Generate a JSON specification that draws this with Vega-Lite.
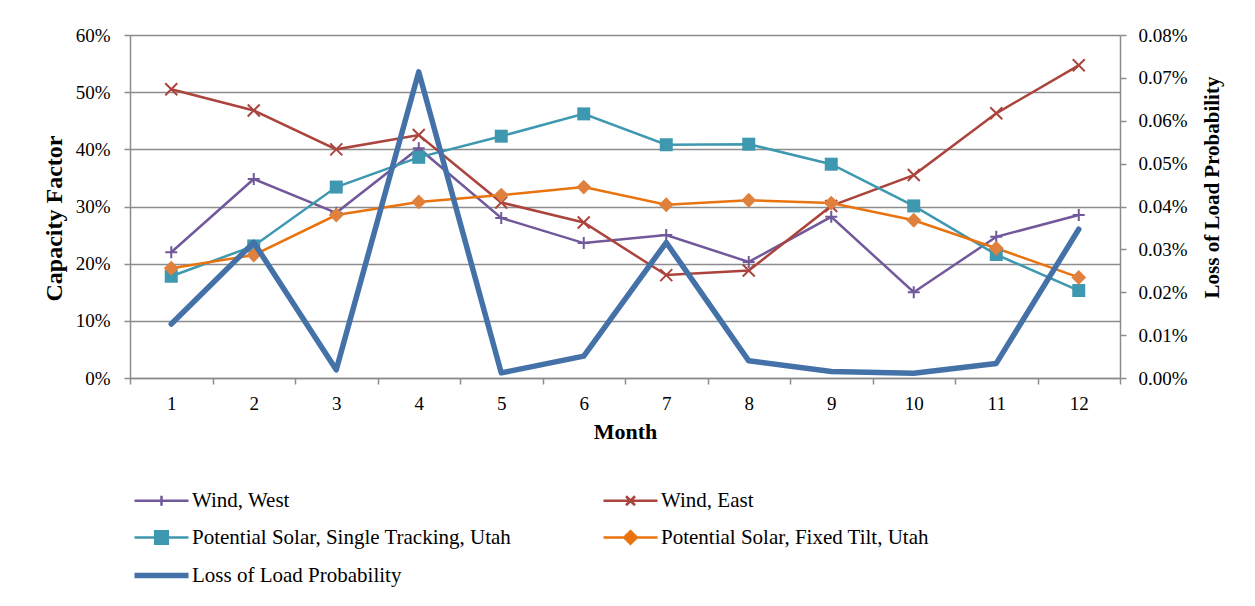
{
  "$schema": "https://vega.github.io/schema/vega-lite/v6.json",
  "width": 990,
  "height": 343,
  "autosize": {"type": "none"},
  "padding": {"left": 130, "top": 35, "right": 135, "bottom": 228},
  "background": "white",
  "config": {
    "font": "Liberation Serif",
    "view": {"stroke": null},
    "axis": {
      "labelFont": "Liberation Serif",
      "titleFont": "Liberation Serif",
      "labelColor": "#000000",
      "titleColor": "#000000",
      "domainColor": "#8c8c8c",
      "tickColor": "#8c8c8c",
      "gridColor": "#8c8c8c",
      "domainWidth": 1.5,
      "tickWidth": 1.5,
      "gridWidth": 1.4,
      "labelFontSize": 19,
      "titleFontSize": 22,
      "titleFontWeight": "bold"
    },
    "legend": {
      "labelFont": "Liberation Serif",
      "labelFontSize": 21,
      "labelColor": "#000000"
    }
  },
  "data": {
    "values": [
      {"month": 1, "series": "Wind, West", "value": 0.220},
      {"month": 2, "series": "Wind, West", "value": 0.348},
      {"month": 3, "series": "Wind, West", "value": 0.289},
      {"month": 4, "series": "Wind, West", "value": 0.402},
      {"month": 5, "series": "Wind, West", "value": 0.280},
      {"month": 6, "series": "Wind, West", "value": 0.236},
      {"month": 7, "series": "Wind, West", "value": 0.250},
      {"month": 8, "series": "Wind, West", "value": 0.203},
      {"month": 9, "series": "Wind, West", "value": 0.282},
      {"month": 10, "series": "Wind, West", "value": 0.150},
      {"month": 11, "series": "Wind, West", "value": 0.247},
      {"month": 12, "series": "Wind, West", "value": 0.285},
      {"month": 1, "series": "Wind, East", "value": 0.505},
      {"month": 2, "series": "Wind, East", "value": 0.468},
      {"month": 3, "series": "Wind, East", "value": 0.400},
      {"month": 4, "series": "Wind, East", "value": 0.425},
      {"month": 5, "series": "Wind, East", "value": 0.307},
      {"month": 6, "series": "Wind, East", "value": 0.272},
      {"month": 7, "series": "Wind, East", "value": 0.180},
      {"month": 8, "series": "Wind, East", "value": 0.188},
      {"month": 9, "series": "Wind, East", "value": 0.301},
      {"month": 10, "series": "Wind, East", "value": 0.355},
      {"month": 11, "series": "Wind, East", "value": 0.463},
      {"month": 12, "series": "Wind, East", "value": 0.547},
      {"month": 1, "series": "Potential Solar, Single Tracking, Utah", "value": 0.178},
      {"month": 2, "series": "Potential Solar, Single Tracking, Utah", "value": 0.231},
      {"month": 3, "series": "Potential Solar, Single Tracking, Utah", "value": 0.334},
      {"month": 4, "series": "Potential Solar, Single Tracking, Utah", "value": 0.386},
      {"month": 5, "series": "Potential Solar, Single Tracking, Utah", "value": 0.423},
      {"month": 6, "series": "Potential Solar, Single Tracking, Utah", "value": 0.462},
      {"month": 7, "series": "Potential Solar, Single Tracking, Utah", "value": 0.408},
      {"month": 8, "series": "Potential Solar, Single Tracking, Utah", "value": 0.409},
      {"month": 9, "series": "Potential Solar, Single Tracking, Utah", "value": 0.374},
      {"month": 10, "series": "Potential Solar, Single Tracking, Utah", "value": 0.301},
      {"month": 11, "series": "Potential Solar, Single Tracking, Utah", "value": 0.216},
      {"month": 12, "series": "Potential Solar, Single Tracking, Utah", "value": 0.153},
      {"month": 1, "series": "Potential Solar, Fixed Tilt, Utah", "value": 0.192},
      {"month": 2, "series": "Potential Solar, Fixed Tilt, Utah", "value": 0.215},
      {"month": 3, "series": "Potential Solar, Fixed Tilt, Utah", "value": 0.285},
      {"month": 4, "series": "Potential Solar, Fixed Tilt, Utah", "value": 0.308},
      {"month": 5, "series": "Potential Solar, Fixed Tilt, Utah", "value": 0.320},
      {"month": 6, "series": "Potential Solar, Fixed Tilt, Utah", "value": 0.334},
      {"month": 7, "series": "Potential Solar, Fixed Tilt, Utah", "value": 0.303},
      {"month": 8, "series": "Potential Solar, Fixed Tilt, Utah", "value": 0.311},
      {"month": 9, "series": "Potential Solar, Fixed Tilt, Utah", "value": 0.306},
      {"month": 10, "series": "Potential Solar, Fixed Tilt, Utah", "value": 0.276},
      {"month": 11, "series": "Potential Solar, Fixed Tilt, Utah", "value": 0.227},
      {"month": 12, "series": "Potential Solar, Fixed Tilt, Utah", "value": 0.176},
      {"month": 1, "series": "Loss of Load Probability", "value": 0.000126},
      {"month": 2, "series": "Loss of Load Probability", "value": 0.000316},
      {"month": 3, "series": "Loss of Load Probability", "value": 0.000019},
      {"month": 4, "series": "Loss of Load Probability", "value": 0.000714},
      {"month": 5, "series": "Loss of Load Probability", "value": 0.000012},
      {"month": 6, "series": "Loss of Load Probability", "value": 0.000051},
      {"month": 7, "series": "Loss of Load Probability", "value": 0.000316},
      {"month": 8, "series": "Loss of Load Probability", "value": 0.000040},
      {"month": 9, "series": "Loss of Load Probability", "value": 0.000015},
      {"month": 10, "series": "Loss of Load Probability", "value": 0.000011},
      {"month": 11, "series": "Loss of Load Probability", "value": 0.000034},
      {"month": 12, "series": "Loss of Load Probability", "value": 0.000347}
    ]
  },
  "layer": [
    {
      "encoding": {
        "x": {
          "field": "month", "type": "ordinal", "bandPosition": 0.5,
          "scale": {"type": "band", "paddingInner": 0, "paddingOuter": 0},
          "axis": {"title": "Month", "labelAngle": 0, "tickBand": "extent", "tickSize": 6, "labelPadding": 10, "titlePadding": 8, "grid": false}
        },
        "y": {
          "field": "value", "type": "quantitative",
          "scale": {"domain": [0, 0.6], "nice": false},
          "axis": {"title": "Capacity Factor", "format": ".0%", "values": [0, 0.1, 0.2, 0.3, 0.4, 0.5, 0.6], "tickSize": 6, "labelPadding": 14, "titlePadding": 9, "grid": true, "titleFontSize": 24, "titleY": 183}
        }
      },
      "layer": [
        {
          "transform": [{"filter": "datum.series !== 'Loss of Load Probability'"}],
          "mark": {"type": "line", "strokeWidth": 2.5},
          "encoding": {
            "color": {
              "field": "series", "type": "nominal",
              "scale": {
                "domain": ["Wind, West", "Wind, East", "Potential Solar, Single Tracking, Utah", "Potential Solar, Fixed Tilt, Utah", "Loss of Load Probability"],
                "range": ["#71589a", "#ab443d", "#3e98b0", "#e9730f", "#4472a8"]
              },
              "legend": {
                "title": null, "orient": "none", "legendX": 21, "legendY": 455, "direction": "horizontal", "columns": 2, "columnPadding": 86, "rowPadding": 15,
                "symbolSize": 324, "labelOffset": 20, "labelFontSize": 21, "labelFont": "Liberation Serif", "labelLimit": 600, "labelColor": "#000000", "padding": 0,
                "encode": {
                  "symbols": {
                    "update": {
                      "fill": {"scale": "color", "field": "value"},
                      "stroke": {"scale": "color", "field": "value"},
                      "opacity": {"value": 1},
                      "fillOpacity": {"value": 1},
                      "strokeOpacity": {"value": 1},
                      "strokeWidth": {"signal": "datum.value === 'Loss of Load Probability' ? 5.5 : 2.5"}
                    }
                  }
                }
              }
            }
          }
        },
        {
          "transform": [{"filter": "datum.series === 'Wind, West'"}],
          "mark": {"type": "point", "shape": "M-1,0H1M0,-1V1", "filled": false, "size": 144, "strokeWidth": 2, "color": "#71589a", "opacity": 1},
          "encoding": {}
        },
        {
          "transform": [{"filter": "datum.series === 'Wind, East'"}],
          "mark": {"type": "point", "shape": "M-1,-1L1,1M-1,1L1,-1", "filled": false, "size": 144, "strokeWidth": 2, "color": "#ab443d", "opacity": 1},
          "encoding": {}
        },
        {
          "transform": [{"filter": "datum.series === 'Potential Solar, Single Tracking, Utah'"}],
          "mark": {"type": "point", "shape": "square", "filled": true, "size": 169, "color": "#3e98b0", "opacity": 1},
          "encoding": {}
        },
        {
          "transform": [{"filter": "datum.series === 'Potential Solar, Fixed Tilt, Utah'"}],
          "mark": {"type": "point", "shape": "diamond", "filled": true, "size": 220, "color": "#df803c", "opacity": 1},
          "encoding": {}
        },
        {
          "mark": {"type": "point", "filled": true, "opacity": 0},
          "encoding": {
            "color": {
              "field": "series", "type": "nominal",
              "legend": {
                "title": null, "orient": "none", "legendX": 21, "legendY": 455, "direction": "horizontal", "columns": 2, "columnPadding": 86, "rowPadding": 15,
                "symbolSize": 324, "labelOffset": 20, "labelFontSize": 21, "labelFont": "Liberation Serif", "labelLimit": 600, "labelColor": "#000000", "padding": 0,
                "encode": {
                  "symbols": {
                    "update": {
                      "fill": {"scale": "color", "field": "value"},
                      "stroke": {"scale": "color", "field": "value"},
                      "opacity": {"value": 1},
                      "fillOpacity": {"value": 1},
                      "strokeOpacity": {"value": 1},
                      "strokeWidth": {"signal": "datum.value === 'Loss of Load Probability' ? 5.5 : 2.5"}
                    }
                  }
                }
              }
            },
            "shape": {
              "field": "series", "type": "nominal",
              "scale": {
                "domain": ["Wind, West", "Wind, East", "Potential Solar, Single Tracking, Utah", "Potential Solar, Fixed Tilt, Utah", "Loss of Load Probability"],
                "range": ["M-3,0H3M0,-0.55V0.55", "M-3,0H3M-0.5,-0.5L0.5,0.5M-0.5,0.5L0.5,-0.5", "M-3,0H3M-0.7,-0.7H0.7V0.7H-0.7Z", "M-3,0H3M0,-0.7L0.7,0L0,0.7L-0.7,0Z", "M-3,0H3"]
              },
              "legend": {
                "title": null, "orient": "none", "legendX": 21, "legendY": 455, "direction": "horizontal", "columns": 2, "columnPadding": 86, "rowPadding": 15,
                "symbolSize": 324, "labelOffset": 20, "labelFontSize": 21, "labelFont": "Liberation Serif", "labelLimit": 600, "labelColor": "#000000", "padding": 0,
                "encode": {
                  "symbols": {
                    "update": {
                      "fill": {"scale": "color", "field": "value"},
                      "stroke": {"scale": "color", "field": "value"},
                      "opacity": {"value": 1},
                      "fillOpacity": {"value": 1},
                      "strokeOpacity": {"value": 1},
                      "strokeWidth": {"signal": "datum.value === 'Loss of Load Probability' ? 5.5 : 2.5"}
                    }
                  }
                }
              }
            }
          }
        }
      ]
    },
    {
      "transform": [{"filter": "datum.series === 'Loss of Load Probability'"}],
      "mark": {"type": "line", "strokeWidth": 5.5, "color": "#4472a8", "strokeJoin": "round", "strokeCap": "round"},
      "encoding": {
        "x": {"field": "month", "type": "ordinal", "bandPosition": 0.5},
        "y": {
          "field": "value", "type": "quantitative",
          "scale": {"domain": [0, 0.0008], "nice": false},
          "axis": {"orient": "right", "title": "Loss of Load Probability", "format": ".2%", "values": [0, 0.0001, 0.0002, 0.0003, 0.0004, 0.0005, 0.0006, 0.0007, 0.0008], "grid": false, "tickSize": 6, "labelPadding": 12, "titlePadding": 14, "titleAngle": 270, "titleBaseline": "top", "titleFontSize": 21, "titleY": 152}
        }
      }
    }
  ],
  "resolve": {"scale": {"y": "independent"}}
}
